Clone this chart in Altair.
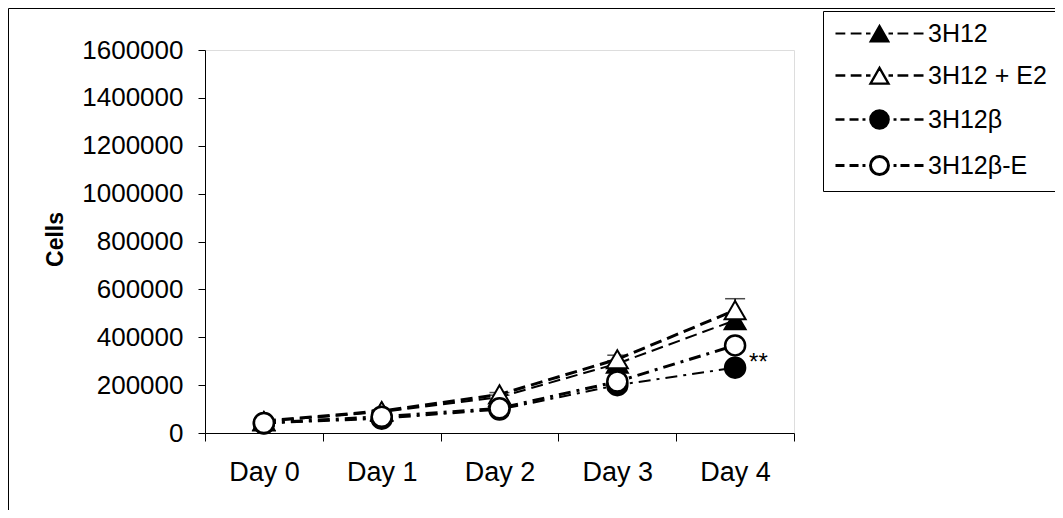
import altair as alt
import pandas as pd

# ---- data ----
days = ["Day 0", "Day 1", "Day 2", "Day 3", "Day 4"]
series = ["3H12", "3H12 + E2", "3H12β", "3H12β-E"]
cells_3h12 = [48000, 88000, 150000, 290000, 471000]
cells_3h12_e2 = [50000, 92000, 161000, 308000, 513000]
cells_3h12b = [40000, 60000, 98000, 200000, 273000]
cells_3h12b_e = [42000, 68000, 103000, 215000, 366000]
err_3h12 = [3000, 5000, 8000, 12000, 15000]
err_3h12_e2 = [3000, 5000, 8000, 17000, 48000]
err_3h12b = [2000, 3000, 5000, 8000, 10000]
err_3h12b_e = [2000, 3000, 5000, 8000, 12000]
y_ticks = [0, 200000, 400000, 600000, 800000, 1000000, 1200000, 1400000, 1600000]
annot_series = "3H12β"
annot_day = "Day 4"
annot_text = "**"

# ---- styles ----
FONT = "Liberation Sans"
dashes = {"3H12": [12, 6], "3H12 + E2": [12, 6], "3H12β": [12, 6, 3, 6], "3H12β-E": [12, 6, 3, 6]}
widths = {"3H12": 2, "3H12 + E2": 3, "3H12β": 2, "3H12β-E": 3}
shapes = {"3H12": "triangle-up", "3H12 + E2": "triangle-up", "3H12β": "circle", "3H12β-E": "circle"}
fills = {"3H12": "black", "3H12 + E2": "white", "3H12β": "black", "3H12β-E": "white"}
sizes = {"3H12": 441, "3H12 + E2": 441, "3H12β": 400, "3H12β-E": 400}


def seg(pairs):
    return "".join(f"M{a:.2f},0H{b:.2f}" for a, b in pairs)


K = 0.5523
tri = "M0,-0.85L1,0.9L-1,0.9Z"
circ = (f"M1,0C1,{K} {K},1 0,1C-{K},1 -1,{K} -1,0"
        f"C-1,-{K} -{K},-1 0,-1C{K},-1 1,-{K} 1,0Z")
dash_pairs = [(-4.89, -3.8), (-3.2, -2.0), (-1.5, -1.0), (1.0, 1.5), (2.0, 3.2), (3.8, 4.89)]
dashdot_pairs = [(-4.89, -3.89), (-3.33, -2.33), (-1.89, -1.56), (1.56, 1.89), (2.33, 3.33), (3.89, 4.89)]
legend_paths = [seg(dash_pairs) + tri, seg(dash_pairs) + tri,
                seg(dashdot_pairs) + circ, seg(dashdot_pairs) + circ]

rows = []
for s, vals, errs in zip(series,
                         [cells_3h12, cells_3h12_e2, cells_3h12b, cells_3h12b_e],
                         [err_3h12, err_3h12_e2, err_3h12b, err_3h12b_e]):
    for d, v, e in zip(days, vals, errs):
        rows.append({"day": d, "series": s, "cells": v, "lo": v - e, "hi": v + e})
df = pd.DataFrame(rows)

W, H = 589, 383

x_enc = alt.X(
    "day:N", sort=days, bandPosition=0.5,
    scale=alt.Scale(type="band", domain=days, paddingInner=0, paddingOuter=0),
    axis=alt.Axis(title=None, tickBand="extent", labelAngle=0, tickSize=8,
                  labelPadding=18, labelFontSize=27, labelFont=FONT,
                  labelColor="black", domainColor="black", tickColor="black",
                  grid=False, labelBaseline="top"),
)
y_enc = alt.Y(
    "cells:Q", scale=alt.Scale(domain=[0, 1600000], nice=False, zero=True),
    axis=alt.Axis(title="Cells", values=y_ticks, format="d", tickSize=7,
                  labelPadding=15, labelFontSize=26, labelFont=FONT,
                  labelColor="black", domainColor="black", tickColor="black",
                  grid=False, titleFont=FONT, titleFontSize=23,
                  titleFontWeight="bold", titleColor="black",
                  titleX=-143, titleY=189, titleAlign="center",
                  titleBaseline="alphabetic", titleAngle=270),
)

base = alt.Chart(df)
layers = []
for s in series:
    layers.append(
        base.transform_filter(alt.datum.series == s)
        .mark_line(color="black", strokeDash=dashes[s], strokeWidth=widths[s])
        .encode(x=x_enc, y=y_enc)
    )
for s in series:
    f = base.transform_filter(alt.datum.series == s)
    layers.append(f.mark_rule(color="black", strokeWidth=1.5).encode(x=x_enc, y=y_enc, y2="hi:Q")
                  .transform_calculate(cells="datum.lo"))
    layers.append(f.mark_tick(color="black", thickness=1.5, size=20, orient="horizontal")
                  .encode(x=x_enc, y=alt.Y("hi:Q")))
for s in series:
    layers.append(
        base.transform_filter(alt.datum.series == s)
        .mark_point(shape=shapes[s], filled=True, fill=fills[s], stroke="black",
                    strokeWidth=2.5 if shapes[s] == "circle" else 2,
                    size=sizes[s], opacity=1)
        .encode(x=x_enc, y=y_enc)
    )

layers.append(
    base.transform_filter((alt.datum.series == annot_series) & (alt.datum.day == annot_day))
    .mark_text(align="left", baseline="middle", dx=14, dy=-5, fontSize=24, font=FONT, color="black")
    .encode(x=x_enc, y=y_enc, text=alt.value(annot_text))
)

leg = alt.Legend(
    title=None, orient="none", legendX=618, legendY=-39, padding=10,
    strokeColor="black", fillColor="white", symbolSize=324, symbolOffset=34,
    labelOffset=36, rowPadding=16, labelFontSize=25, labelFont=FONT,
    labelColor="black", labelLimit=300,
    symbolStrokeColor="black", symbolStrokeWidth=2, symbolOpacity=1,
)
layers.append(
    base.transform_filter("false")
    .mark_point(filled=True, opacity=1, size=324)
    .encode(
        x=x_enc, y=y_enc,
        shape=alt.Shape("series:N", scale=alt.Scale(domain=series, range=legend_paths), legend=leg),
        fill=alt.Fill("series:N", scale=alt.Scale(domain=series, range=[fills[s] for s in series]), legend=leg),
        stroke=alt.Stroke("series:N", scale=alt.Scale(domain=series, range=["black"] * 4), legend=leg),
        strokeWidth=alt.StrokeWidth("series:N", scale=alt.Scale(domain=series, range=[widths[s] for s in series]), legend=leg),
    )
)

frame = alt.Chart(pd.DataFrame({"k": [0]}))
layers.append(frame.mark_rule(color="black", strokeWidth=1).encode(
    x=alt.value(-196.5), y=alt.value(-41.5), y2=alt.value(H + 80)))
layers.append(frame.mark_rule(color="black", strokeWidth=1).encode(
    x=alt.value(-196.5), x2=alt.value(W + 300), y=alt.value(-41.5)))

chart = alt.layer(*layers).properties(
    width=W, height=H,
    autosize=alt.AutoSizeParams(type="none"),
    padding={"left": 197, "top": 42, "right": 261, "bottom": 77},
).configure_view(stroke=None).configure(background="white")

chart.save("out.html", embed_options={"renderer": "svg", "actions": False})
